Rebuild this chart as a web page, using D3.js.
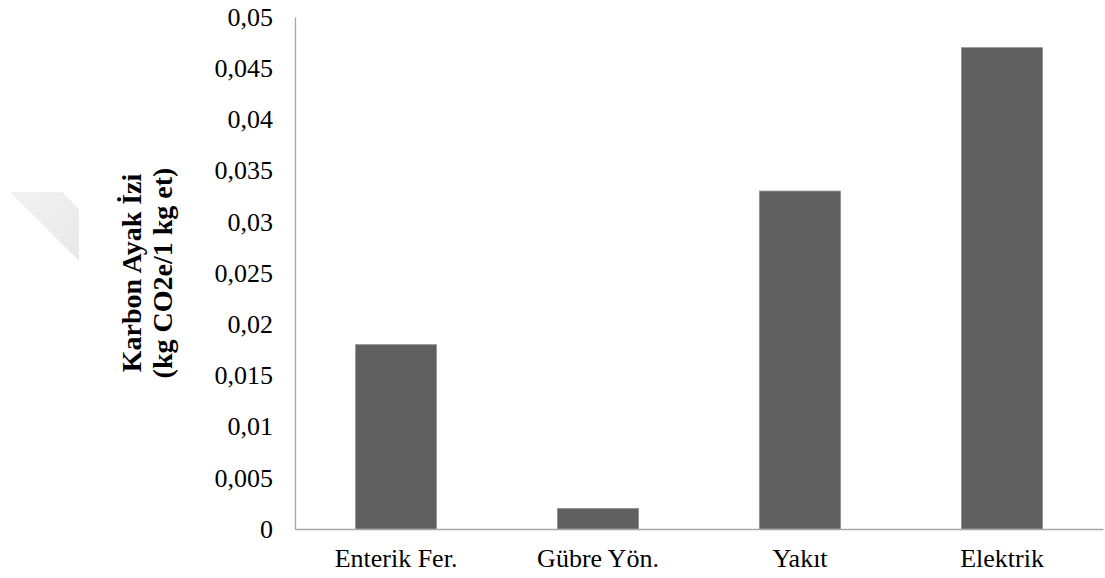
<!DOCTYPE html>
<html><head><meta charset="utf-8">
<script src="https://cdn.jsdelivr.net/npm/d3@7"></script>
<style>body{margin:0;background:#fff}</style>
</head><body>
<script>
const categories = ["Enterik Fer.", "Gübre Yön.", "Yakıt", "Elektrik"];
const values = [0.018, 0.002, 0.033, 0.047];
const yTicks = [0, 0.005, 0.01, 0.015, 0.02, 0.025, 0.03, 0.035, 0.04, 0.045, 0.05];
const yTitle = ["Karbon Ayak İzi", "(kg CO2e/1 kg et)"];

const W = 1105, H = 578;
const FONT = '"Liberation Serif"';
const svg = d3.select("body").append("svg").attr("width", W).attr("height", H);

const wm = svg.append("defs").append("linearGradient").attr("id","wg").attr("x1","0").attr("y1","0").attr("x2","1").attr("y2","1");
wm.append("stop").attr("offset","0").attr("stop-color","#f2f2f2");
wm.append("stop").attr("offset","1").attr("stop-color","#e8e8e8");
svg.append("polygon").attr("points","10,192 62,192 79,209 79,261").attr("fill","url(#wg)");

const x = d3.scaleBand().domain(categories).range([295, 1103]).paddingInner(0.6).paddingOuter(0.3);
const y = d3.scaleLinear().domain([0, 0.05]).range([529, 17]);

svg.selectAll("rect.bar").data(values).join("rect")
  .attr("class","bar")
  .attr("x", (d,i) => x(categories[i]))
  .attr("width", x.bandwidth())
  .attr("y", d => y(d))
  .attr("height", d => y(0) - y(d))
  .attr("fill", "#606060")
  .attr("stroke", "#8a8a8a").attr("stroke-width", 0.8);

const fmt = d => d === 0 ? "0" : String(d).replace(".", ",");

const ya = svg.append("g").attr("transform","translate(295,0)")
  .call(d3.axisLeft(y).tickValues(yTicks).tickFormat(fmt).tickSize(0).tickPadding(22));
ya.select(".domain").attr("stroke","#a6a6a6").attr("stroke-width",1.3);
ya.selectAll("text").style("font-family",FONT).style("font-size","26px").attr("fill","#000");

const xa = svg.append("g").attr("transform","translate(0,529)")
  .call(d3.axisBottom(x).tickSize(0).tickPadding(20));
xa.select(".domain").attr("stroke","#a6a6a6").attr("stroke-width",1.3);
xa.selectAll("text").style("font-family",FONT).style("font-size","26px").attr("fill","#000");

const t = svg.append("text").attr("transform","translate(141,273) rotate(-90)")
  .attr("text-anchor","middle").style("font-family",FONT).style("font-weight","bold").style("font-size","28px").attr("fill","#000");
yTitle.forEach((s,i) => t.append("tspan").attr("x",0).attr("dy", i===0 ? 0 : 31).text(s));
</script>
</body></html>
